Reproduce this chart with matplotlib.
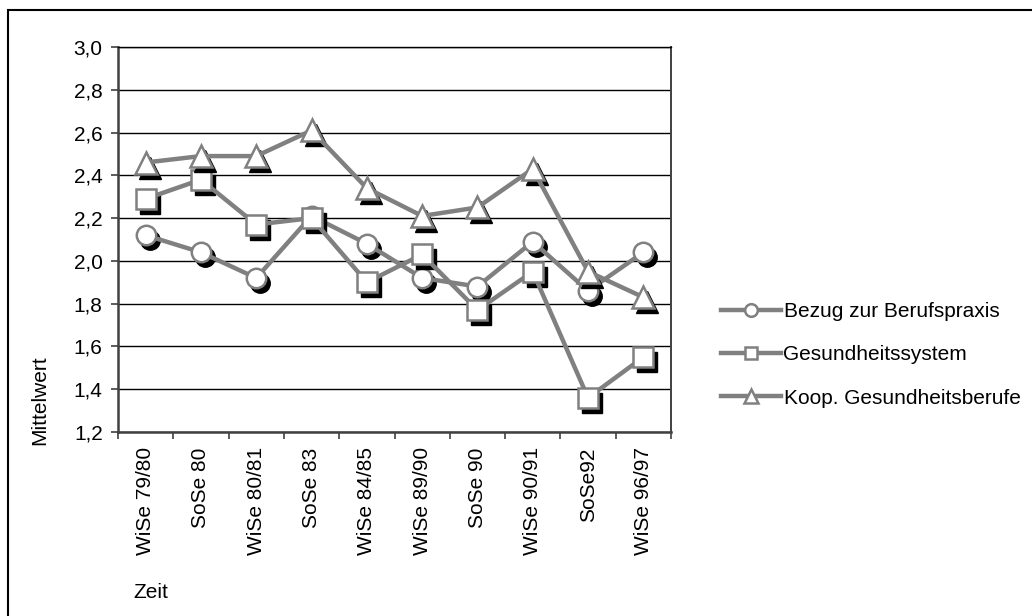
import matplotlib
matplotlib.use("Agg")
import matplotlib.pyplot as plt
import matplotlib.transforms as mtransforms
from matplotlib.patches import Rectangle

plt.rcParams['font.family'] = ['Liberation Sans', 'DejaVu Sans']

zeit = ["WiSe 79/80", "SoSe 80", "WiSe 80/81", "SoSe 83", "WiSe 84/85",
        "WiSe 89/90", "SoSe 90", "WiSe 90/91", "SoSe92", "WiSe 96/97"]
bezug = [2.12, 2.04, 1.92, 2.21, 2.08, 1.92, 1.88, 2.09, 1.86, 2.04]
gesundheit = [2.29, 2.38, 2.17, 2.20, 1.90, 2.03, 1.77, 1.95, 1.36, 1.55]
koop = [2.46, 2.49, 2.49, 2.61, 2.34, 2.21, 2.25, 2.43, 1.95, 1.83]

series = [("Bezug zur Berufspraxis", bezug, "o", 14),
          ("Gesundheitssystem", gesundheit, "s", 14),
          ("Koop. Gesundheitsberufe", koop, "^", 16)]

FS = 15
W, H = 1032, 616
fig = plt.figure(figsize=(W / 100, H / 100), dpi=100)
ax = fig.add_axes([118 / W, 1 - 432 / H, (671 - 118) / W, (432 - 47) / H])

x = list(range(len(zeit)))
shadow = mtransforms.offset_copy(ax.transData, fig=fig, x=4, y=-5, units='dots')
gray = "#808080"

handles = []
for i, (name, vals, mk, ms) in enumerate(series):
    # black drop shadow of the markers
    ax.plot(x, vals, linestyle="none", marker=mk, markersize=ms,
            color="black", markeredgecolor="black", transform=shadow,
            zorder=3 + 2 * i)
    h, = ax.plot(x, vals, color=gray, linewidth=3.2, marker=mk, markersize=ms,
                 markerfacecolor="white", markeredgecolor=gray,
                 markeredgewidth=1.8, zorder=4 + 2 * i, label=name)
    handles.append(h)

ax.set_xlim(-0.5, len(zeit) - 0.5)
ax.set_ylim(1.2, 3.0)
yt = [1.2 + 0.2 * k for k in range(10)]
ax.set_yticks(yt)
ax.set_yticklabels([f"{v:.1f}".replace(".", ",") for v in yt], fontsize=FS)
ax.yaxis.grid(True, color="black", linewidth=1)
ax.set_axisbelow(True)

ax.set_xticks(x)
ax.set_xticklabels(zeit, rotation=90, fontsize=FS, va="top")
ax.set_xticks([k - 0.5 for k in range(len(zeit) + 1)], minor=True)
ax.tick_params(axis="x", which="major", length=0, pad=11)
ax.tick_params(axis="x", which="minor", length=5, width=1.2, color="#404040")
ax.tick_params(axis="y", length=5, width=1.2, color="#404040", pad=6)

for s in ["left", "bottom"]:
    ax.spines[s].set_color("#404040")
    ax.spines[s].set_linewidth(1.8)
ax.spines["top"].set_color("black")
ax.spines["top"].set_linewidth(1)
ax.spines["right"].set_color("#404040")
ax.spines["right"].set_linewidth(1.4)

fig.text(40 / W, 1 - 400 / H, "Mittelwert", rotation=90, fontsize=FS,
         ha="center", va="center")
fig.text(133 / W, 1 - 592 / H, "Zeit", fontsize=FS, ha="left", va="center")

fig.legend(handles=handles, loc="center left",
           bbox_to_anchor=(721 / W, 1 - 355 / H), frameon=False, fontsize=FS,
           handlelength=2.9, handletextpad=0.1, labelspacing=1.16,
           markerscale=0.65, borderpad=0, borderaxespad=0)

fig.patches.append(Rectangle((8 / W, -0.1), 1.2, 1.1 - 10 / H,
                             transform=fig.transFigure, fill=False,
                             edgecolor="black", linewidth=1.5))

fig.savefig("out.png", dpi=100)
